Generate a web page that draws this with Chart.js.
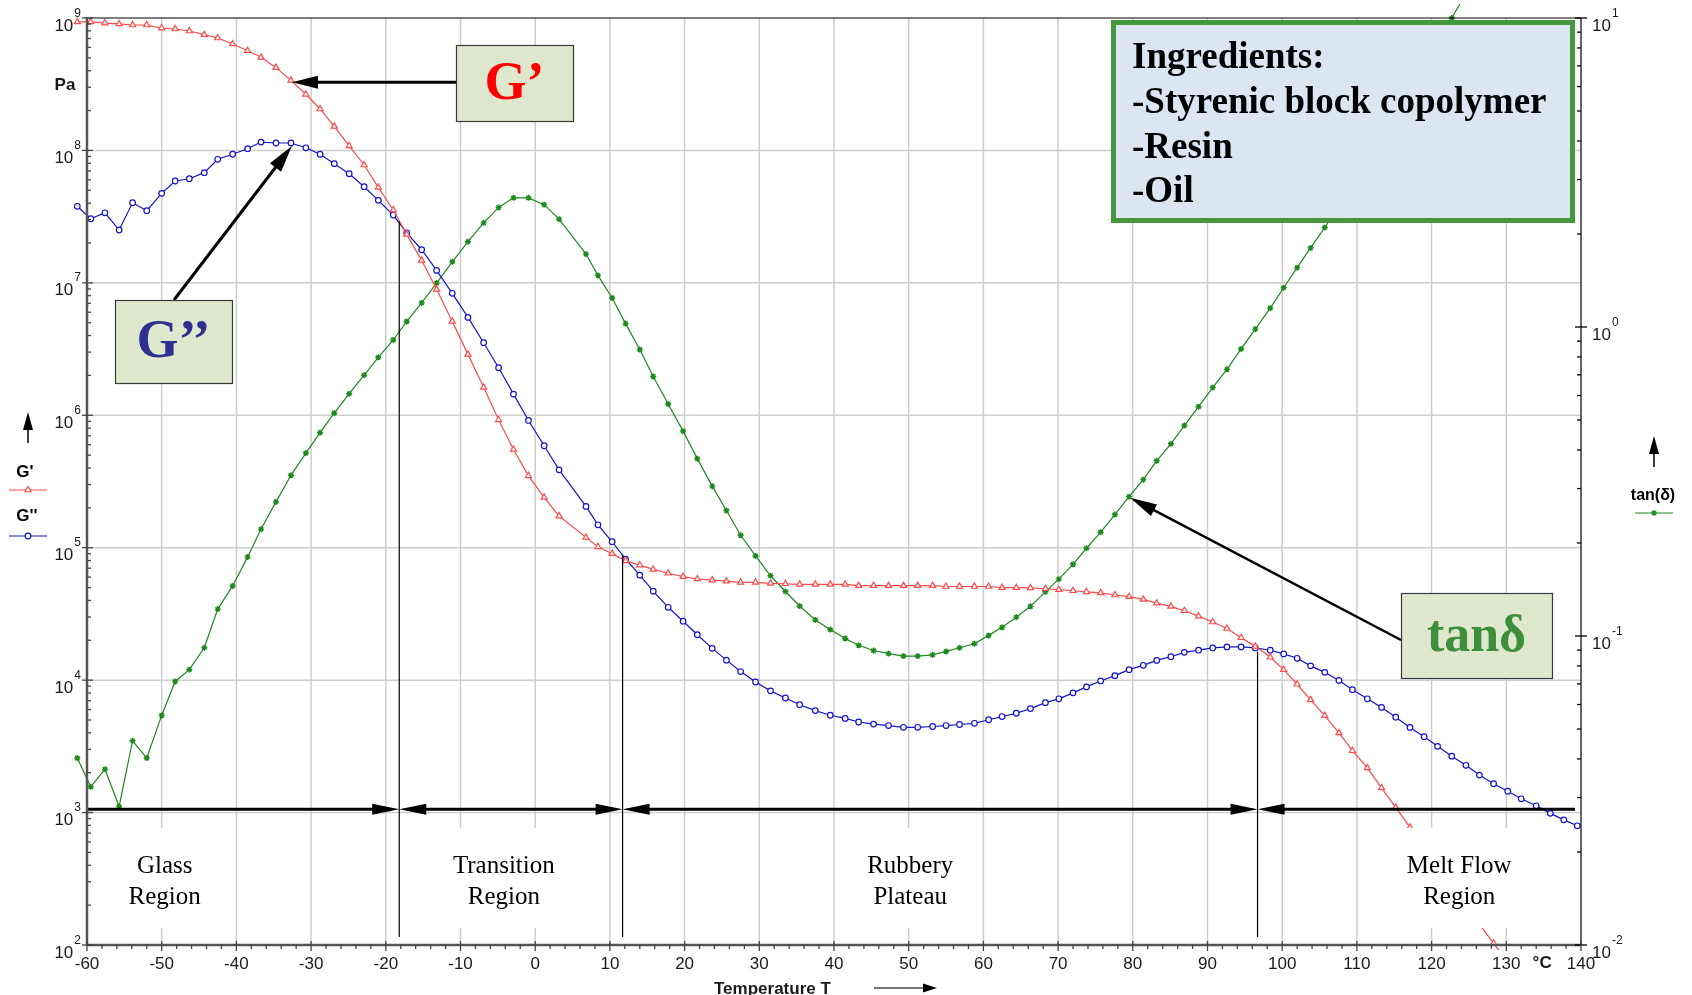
<!DOCTYPE html>
<html>
<head>
<meta charset="utf-8">
<title>DMA temperature sweep</title>
<script src="https://cdn.jsdelivr.net/npm/chart.js@4.4.1/dist/chart.umd.min.js"></script>
<style>
  html, body { margin: 0; padding: 0; background: #fff; }
  #wrap { position: relative; width: 1692px; height: 995px; }
</style>
</head>
<body>
<div id="wrap"><canvas id="dmaChart"></canvas></div>
<script>
// --- measured temperatures (°C), shared by all three series ---
const temps = [
  -61.3, -59.5, -57.6, -55.7, -53.9, -52.0, -50.0, -48.2, -46.3, -44.3,
  -42.5, -40.5, -38.5, -36.7, -34.7, -32.7, -30.7, -28.8, -26.9, -24.9,
  -22.9, -21.0, -19.0, -17.2, -15.2, -13.2, -11.1, -9.0, -6.9, -4.9,
  -2.9, -0.9, 1.2, 3.2, 6.8, 8.4, 10.3, 12.1, 14.0, 15.8,
  17.8, 19.8, 21.7, 23.7, 25.6, 27.5, 29.5, 31.5, 33.5, 35.4,
  37.5, 39.5, 41.5, 43.3, 45.3, 47.3, 49.3, 51.2, 53.2, 55.0,
  56.8, 58.8, 60.7, 62.5, 64.4, 66.3, 68.3, 70.1, 72.0, 73.8,
  75.7, 77.6, 79.5, 81.4, 83.2, 85.1, 86.9, 88.8, 90.7, 92.6,
  94.5, 96.4, 98.4, 100.2, 102.0, 103.8, 105.7, 107.6, 109.4, 111.4,
  113.3, 115.2, 117.1, 119.0, 120.8, 122.7, 124.6, 126.4, 128.3, 130.2,
  132.0, 134.0, 135.9, 137.7, 139.5
];

// log10 of storage modulus G' (Pa)
const gStorageLog = [
  8.970, 8.970, 8.962, 8.955, 8.947, 8.947, 8.924, 8.917, 8.902, 8.874,
  8.849, 8.804, 8.753, 8.703, 8.625, 8.529, 8.424, 8.313, 8.182, 8.035,
  7.890, 7.721, 7.550, 7.366, 7.170, 6.951, 6.709, 6.460, 6.211, 5.966,
  5.742, 5.543, 5.380, 5.239, 5.078, 5.007, 4.955, 4.901, 4.869, 4.836,
  4.807, 4.782, 4.764, 4.755, 4.747, 4.739, 4.739, 4.731, 4.728, 4.723,
  4.723, 4.723, 4.723, 4.714, 4.714, 4.714, 4.714, 4.714, 4.714, 4.707,
  4.707, 4.707, 4.707, 4.699, 4.699, 4.697, 4.690, 4.683, 4.675, 4.667,
  4.659, 4.643, 4.630, 4.610, 4.581, 4.557, 4.524, 4.483, 4.439, 4.390,
  4.320, 4.255, 4.173, 4.079, 3.969, 3.851, 3.732, 3.602, 3.467, 3.337,
  3.186, 3.039, 2.888, 2.730, 2.590, 2.440, 2.300, 2.157, 2.013, 1.870
];

// log10 of loss modulus G'' (Pa)
const gLossLog = [
  7.578, 7.484, 7.529, 7.399, 7.605, 7.545, 7.676, 7.769, 7.786, 7.832,
  7.933, 7.971, 8.013, 8.063, 8.056, 8.056, 8.020, 7.971, 7.900, 7.824,
  7.726, 7.623, 7.512, 7.378, 7.250, 7.094, 6.921, 6.739, 6.548, 6.359,
  6.160, 5.961, 5.770, 5.588, 5.312, 5.173, 5.045, 4.913, 4.793, 4.672,
  4.550, 4.445, 4.343, 4.240, 4.151, 4.065, 3.986, 3.919, 3.865, 3.814,
  3.770, 3.735, 3.711, 3.684, 3.668, 3.657, 3.644, 3.644, 3.650, 3.657,
  3.665, 3.674, 3.701, 3.725, 3.750, 3.785, 3.830, 3.859, 3.904, 3.949,
  3.994, 4.034, 4.079, 4.112, 4.149, 4.177, 4.210, 4.226, 4.243, 4.251,
  4.251, 4.243, 4.226, 4.198, 4.165, 4.108, 4.059, 3.998, 3.928, 3.859,
  3.794, 3.720, 3.643, 3.573, 3.500, 3.426, 3.357, 3.283, 3.218, 3.161,
  3.104, 3.051, 2.994, 2.945, 2.900
];

// log10 of loss factor tan(delta)
const tanDeltaLog = [
  -1.395, -1.488, -1.431, -1.552, -1.339, -1.395, -1.257, -1.147, -1.109, -1.038,
  -0.913, -0.838, -0.744, -0.654, -0.566, -0.480, -0.408, -0.342, -0.279, -0.216,
  -0.156, -0.098, -0.042, 0.018, 0.078, 0.142, 0.211, 0.276, 0.337, 0.387,
  0.418, 0.418, 0.396, 0.349, 0.236, 0.167, 0.094, 0.011, -0.073, -0.160,
  -0.249, -0.337, -0.426, -0.515, -0.594, -0.674, -0.741, -0.805, -0.856, -0.903,
  -0.948, -0.979, -1.008, -1.030, -1.047, -1.057, -1.065, -1.065, -1.061, -1.050,
  -1.038, -1.025, -0.998, -0.972, -0.939, -0.904, -0.857, -0.816, -0.768, -0.716,
  -0.664, -0.607, -0.549, -0.494, -0.433, -0.378, -0.319, -0.258, -0.196, -0.137,
  -0.071, -0.007, 0.061, 0.127, 0.192, 0.256, 0.322, 0.390, 0.460, 0.530,
  0.610, 0.690, 0.760, 0.840, 0.920, 1.000, 1.080
];

// axis ticks
const tempTicks = [-60, -50, -40, -30, -20, -10, 0, 10, 20, 30, 40, 50, 60, 70, 80, 90, 100, 110, 120, 130, 140];
const modulusExponents = [2, 3, 4, 5, 6, 7, 8, 9];
const tanExponents = [-2, -1, 0, 1];

// region boundaries (°C) and where each boundary line starts (Pa)
const regionBounds = [-18.2, 11.7, 96.7];
const boundTops = [2.9e7, 8.9e4, 1.64e4];
const regionNames = [['Glass', 'Region'], ['Transition', 'Region'], ['Rubbery', 'Plateau'], ['Melt Flow', 'Region']];
const regionCenters = [-49.6, -4.2, 50.2, 123.7];
const arrowLevel = 1060;

const ingredients = ['Ingredients:', '-Styrenic block copolymer', '-Resin', '-Oil'];

const RED = '#ff4a4a';
const BLUE = '#1414cc';
const GREEN = '#1d8a1d';
const SANS = '"Liberation Sans", Arial, sans-serif';
const SERIF = '"Liberation Serif", "Times New Roman", serif';

const toPoints = (logs) => logs.map((v, i) => ({ x: temps[i], y: Math.pow(10, v) }));

function arrowHead(ctx, x0, y0, x1, y1, len, half) {
  const a = Math.atan2(y1 - y0, x1 - x0);
  const bx = x1 - len * Math.cos(a), by = y1 - len * Math.sin(a);
  ctx.beginPath();
  ctx.moveTo(x1, y1);
  ctx.lineTo(bx + half * Math.sin(a), by - half * Math.cos(a));
  ctx.lineTo(bx - half * Math.sin(a), by + half * Math.cos(a));
  ctx.closePath();
  ctx.fill();
}

function arrow(ctx, x0, y0, x1, y1, width, len, half) {
  const a = Math.atan2(y1 - y0, x1 - x0);
  ctx.lineWidth = width;
  ctx.beginPath();
  ctx.moveTo(x0, y0);
  ctx.lineTo(x1 - len * 0.7 * Math.cos(a), y1 - len * 0.7 * Math.sin(a));
  ctx.stroke();
  arrowHead(ctx, x0, y0, x1, y1, len, half);
}

// "10" with a raised exponent, anchored at the tick pixel
function powerLabel(ctx, exp, px, py, alignRight) {
  ctx.textBaseline = 'alphabetic';
  const base = '10';
  ctx.font = '12px ' + SANS;
  const ew = ctx.measureText(String(exp)).width;
  ctx.font = '17px ' + SANS;
  const bw = ctx.measureText(base).width;
  const left = alignRight ? px - bw - ew - 1 : px;
  ctx.textAlign = 'left';
  ctx.fillText(base, left, py + 12.5);
  ctx.font = '12px ' + SANS;
  ctx.fillText(String(exp), left + bw + 1, py - 1.5);
}

function boxWithText(ctx, bx, by, bw, bh, text, color, size) {
  ctx.fillStyle = '#dfe8cc';
  ctx.fillRect(bx, by, bw, bh);
  ctx.strokeStyle = '#3a3a3a';
  ctx.lineWidth = 1.2;
  ctx.strokeRect(bx + 0.5, by + 0.5, bw, bh);
  ctx.fillStyle = color;
  ctx.font = 'bold ' + size + 'px ' + SERIF;
  ctx.textAlign = 'center';
  ctx.textBaseline = 'middle';
  ctx.fillText(text, bx + bw / 2, by + bh / 2 + 2);
}

const dmaDecor = {
  id: 'dmaDecor',
  beforeDatasetsDraw(chart) {
    const { ctx, chartArea: a, scales: { x, y } } = chart;
    ctx.save();
    ctx.strokeStyle = '#cdcdcd';
    ctx.lineWidth = 1.5;
    tempTicks.forEach(t => {
      if (t === -60 || t === 140) return;
      const px = x.getPixelForValue(t);
      ctx.beginPath(); ctx.moveTo(px, a.top); ctx.lineTo(px, a.bottom); ctx.stroke();
    });
    modulusExponents.forEach(e => {
      if (e === 2 || e === 9) return;
      const py = y.getPixelForValue(Math.pow(10, e));
      ctx.beginPath(); ctx.moveTo(a.left, py); ctx.lineTo(a.right, py); ctx.stroke();
    });
    ctx.restore();
  },
  afterDatasetsDraw(chart) {
    const { ctx, chartArea: a, scales: { x, y, y2 } } = chart;
    ctx.save();

    // the first reading sits just left of the axis; Chart.js skips markers outside the area
    chart.data.datasets.forEach((ds, i) => {
      const p = chart.getDatasetMeta(i).data[0];
      if (!p) return;
      ctx.strokeStyle = ds.borderColor;
      ctx.fillStyle = ds.backgroundColor;
      ctx.lineWidth = ds.pointBorderWidth;
      Chart.helpers.drawPoint(ctx, { pointStyle: ds.pointStyle, radius: ds.pointRadius, rotation: 0, borderWidth: ds.pointBorderWidth }, p.x, p.y);
    });

    // region names on white patches
    ctx.font = '25px ' + SERIF;
    ctx.textAlign = 'center';
    ctx.textBaseline = 'alphabetic';
    regionNames.forEach((lines, k) => {
      const cx = x.getPixelForValue(regionCenters[k]);
      const w = Math.max(...lines.map(s => ctx.measureText(s).width)) + 14;
      ctx.fillStyle = '#ffffff';
      ctx.fillRect(cx - w / 2, a.bottom - 117, w, 100);
      ctx.fillStyle = '#000';
      ctx.fillText(lines[0], cx, a.bottom - 72);
      ctx.fillText(lines[1], cx, a.bottom - 41);
    });

    // region boundary lines
    ctx.strokeStyle = '#000';
    ctx.lineWidth = 1.2;
    regionBounds.forEach((t, k) => {
      const px = x.getPixelForValue(t);
      ctx.beginPath();
      ctx.moveTo(px, y.getPixelForValue(boundTops[k]));
      ctx.lineTo(px, a.bottom - 8);
      ctx.stroke();
    });

    // double arrows marking each region
    const ay = y.getPixelForValue(arrowLevel);
    const edges = [a.left, ...regionBounds.map(t => x.getPixelForValue(t)), a.right - 6];
    ctx.fillStyle = '#000';
    ctx.lineWidth = 3;
    for (let k = 0; k < 4; k++) {
      const x0 = edges[k], x1 = edges[k + 1];
      ctx.beginPath(); ctx.moveTo(x0 + (k > 0 ? 20 : 0), ay); ctx.lineTo(x1 - (k < 3 ? 20 : 0), ay); ctx.stroke();
      if (k < 3) arrowHead(ctx, x0, ay, x1, ay, 27, 5.5);
      if (k > 0) arrowHead(ctx, x1, ay, x0, ay, 27, 5.5);
    }

    // ingredients panel
    ctx.fillStyle = '#dce6f2';
    ctx.fillRect(1111, 20, 464, 203);
    ctx.strokeStyle = '#46983f';
    ctx.lineWidth = 5;
    ctx.strokeRect(1113.5, 22.5, 459, 198);
    ctx.fillStyle = '#000';
    ctx.font = 'bold 37px ' + SERIF;
    ctx.textAlign = 'left';
    ctx.textBaseline = 'alphabetic';
    ingredients.forEach((s, k) => ctx.fillText(s, 1132, 68 + k * 44.8));

    // callout boxes and arrows
    ctx.strokeStyle = '#000';
    ctx.fillStyle = '#000';
    const gpTip = { x: x.getPixelForValue(temps[15]), y: y.getPixelForValue(Math.pow(10, gStorageLog[15])) };
    arrow(ctx, 456, gpTip.y + 2, gpTip.x + 1, gpTip.y + 2, 3, 26, 6.5);
    const gppTip = { x: x.getPixelForValue(temps[15]), y: y.getPixelForValue(Math.pow(10, gLossLog[15])) };
    arrow(ctx, 174, 300, gppTip.x + 1, gppTip.y + 3, 3, 27, 7);
    const tdTip = { x: x.getPixelForValue(temps[72]), y: y2.getPixelForValue(Math.pow(10, tanDeltaLog[72])) };
    arrow(ctx, 1401, 640, tdTip.x + 1, tdTip.y + 1, 2.5, 27, 6.5);

    boxWithText(ctx, 456, 45, 117, 76, 'G\u2019', '#ff0000', 54);
    boxWithText(ctx, 115, 300, 117, 83, 'G\u2019\u2019', '#2e3192', 54);
    boxWithText(ctx, 1401, 593, 151, 85, 'tan\u03b4', '#3d8f3d', 52);

    // frame
    ctx.strokeStyle = '#000';
    ctx.lineWidth = 1.2;
    ctx.beginPath(); ctx.moveTo(a.left, a.top); ctx.lineTo(a.right, a.top); ctx.stroke();
    ctx.beginPath(); ctx.moveTo(a.right, a.top); ctx.lineTo(a.right, a.bottom); ctx.stroke();
    ctx.strokeStyle = '#555';
    ctx.lineWidth = 2.5;
    ctx.beginPath(); ctx.moveTo(a.left, a.top - 1); ctx.lineTo(a.left, a.bottom + 1); ctx.stroke();
    ctx.beginPath(); ctx.moveTo(a.left, a.bottom); ctx.lineTo(a.right, a.bottom); ctx.stroke();

    // left axis ticks and labels
    ctx.lineWidth = 1.3;
    ctx.strokeStyle = '#444';
    ctx.fillStyle = '#1a1a1a';
    modulusExponents.forEach(e => {
      const py = y.getPixelForValue(Math.pow(10, e));
      ctx.beginPath(); ctx.moveTo(a.left - 5, py); ctx.lineTo(a.left + 6, py); ctx.stroke();
      if (e < 9) {
        for (let m = 2; m <= 9; m++) {
          const my = y.getPixelForValue(m * Math.pow(10, e));
          ctx.beginPath(); ctx.moveTo(a.left, my); ctx.lineTo(a.left + 4, my); ctx.stroke();
        }
      }
      powerLabel(ctx, e, a.left - 6, py, true);
    });

    // right axis ticks and labels
    ctx.strokeStyle = '#000';
    tanExponents.forEach(e => {
      const py = y2.getPixelForValue(Math.pow(10, e));
      ctx.beginPath(); ctx.moveTo(a.right - 6, py); ctx.lineTo(a.right + 6, py); ctx.stroke();
      if (e < 1) {
        for (let m = 2; m <= 9; m++) {
          const my = y2.getPixelForValue(m * Math.pow(10, e));
          ctx.beginPath(); ctx.moveTo(a.right - 4, my); ctx.lineTo(a.right, my); ctx.stroke();
        }
      }
      powerLabel(ctx, e, a.right + 11, py, false);
    });

    // bottom axis ticks and labels
    ctx.strokeStyle = '#444';
    for (let t = -60; t <= 140; t += 2) {
      const px = x.getPixelForValue(t);
      const major = t % 10 === 0;
      ctx.beginPath(); ctx.moveTo(px, a.bottom - (major ? 4 : 0)); ctx.lineTo(px, a.bottom + (major ? 6 : 4)); ctx.stroke();
    }
    ctx.font = '17px ' + SANS;
    ctx.textAlign = 'center';
    ctx.textBaseline = 'alphabetic';
    tempTicks.forEach(t => ctx.fillText(String(t), x.getPixelForValue(t), a.bottom + 24));
    ctx.font = 'bold 17px ' + SANS;
    ctx.fillText('\u00b0C', x.getPixelForValue(134.8), a.bottom + 23);
    ctx.textAlign = 'left';
    ctx.fillText('Temperature T', 714, 994);
    ctx.fillStyle = '#000';
    arrow(ctx, 874, 988, 937, 988, 1.5, 14, 4.5);

    // unit and legends
    ctx.fillStyle = '#1a1a1a';
    ctx.textAlign = 'center';
    ctx.font = 'bold 17px ' + SANS;
    ctx.fillText('Pa', 65, 90);

    ctx.fillStyle = '#000';
    ctx.strokeStyle = '#000';
    arrow(ctx, 28, 443, 28, 412, 1.5, 18, 5);
    ctx.font = 'bold 17px ' + SANS;
    ctx.fillText("G'", 25, 477);
    ctx.fillText("G''", 27, 521);
    const legendPoint = (style, color, px, py, r) => {
      ctx.strokeStyle = color;
      ctx.fillStyle = '#fff';
      ctx.lineWidth = 1.2;
      ctx.beginPath(); ctx.moveTo(px - 19, py); ctx.lineTo(px + 19, py); ctx.stroke();
      Chart.helpers.drawPoint(ctx, { pointStyle: style, radius: r, rotation: 0, borderWidth: 1.2 }, px, py);
    };
    legendPoint('triangle', RED, 28, 490, 3.5);
    legendPoint('circle', BLUE, 28, 536, 2.8);

    ctx.fillStyle = '#000';
    ctx.strokeStyle = '#000';
    arrow(ctx, 1654, 467, 1654, 436, 1.5, 18, 5);
    ctx.font = 'bold 16px ' + SANS;
    ctx.textAlign = 'center';
    ctx.fillText('tan(\u03b4)', 1653, 500);
    legendPoint('star', GREEN, 1654, 513, 3);

    ctx.restore();
  }
};

const ctxChart = document.getElementById('dmaChart').getContext('2d');
new Chart(ctxChart, {
  type: 'line',
  data: {
    datasets: [
      {
        label: "G'",
        data: toPoints(gStorageLog),
        yAxisID: 'y',
        borderColor: RED,
        backgroundColor: '#ffffff',
        borderWidth: 1.2,
        pointStyle: 'triangle',
        pointRadius: 3.5,
        pointBorderWidth: 1.2,
        tension: 0,
        clip: { left: 14, top: 14, right: 0, bottom: 5 }
      },
      {
        label: "G''",
        data: toPoints(gLossLog),
        yAxisID: 'y',
        borderColor: BLUE,
        backgroundColor: '#ffffff',
        borderWidth: 1.2,
        pointStyle: 'circle',
        pointRadius: 2.8,
        pointBorderWidth: 1.2,
        tension: 0,
        clip: { left: 14, top: 14, right: 0, bottom: 0 }
      },
      {
        label: 'tan(\u03b4)',
        data: toPoints(tanDeltaLog),
        yAxisID: 'y2',
        borderColor: GREEN,
        backgroundColor: GREEN,
        borderWidth: 1.2,
        pointStyle: 'star',
        pointRadius: 3,
        pointBorderWidth: 1.4,
        tension: 0,
        clip: { left: 14, top: 14, right: 0, bottom: 0 }
      }
    ]
  },
  options: {
    responsive: true,
    maintainAspectRatio: false,
    animation: false,
    layout: { padding: { left: 87, top: 18, right: 111, bottom: 50 } },
    plugins: { legend: { display: false }, tooltip: { enabled: false } },
    scales: {
      x: { type: 'linear', min: -60, max: 140, display: false },
      y: { type: 'logarithmic', min: 100, max: 1e9, display: false },
      y2: { type: 'logarithmic', min: 0.01, max: 10, display: false, position: 'right' }
    }
  },
  plugins: [dmaDecor]
});
</script>
</body>
</html>
